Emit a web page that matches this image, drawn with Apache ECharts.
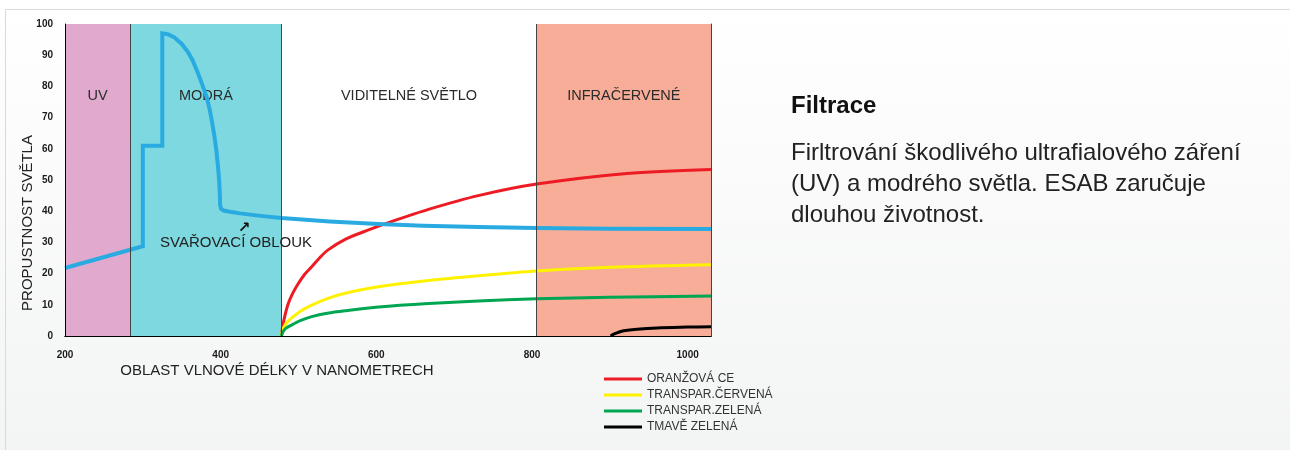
<!DOCTYPE html>
<html>
<head>
<meta charset="utf-8">
<script src="https://cdn.jsdelivr.net/npm/echarts@6/dist/echarts.min.js"></script>
<style>
  html, body { margin: 0; padding: 0; background: #fff; }
  #chart { width: 1290px; height: 450px; }
</style>
</head>
<body>
<div id="chart"></div>
<script>
// wavelength bands
const bandNames = ['UV', 'MODRÁ', 'VIDITELNÉ SVĚTLO', 'INFRAČERVENÉ']
const bandEdges = [200, 284, 478, 806, 1030]
const bandColors = ['#e0a9cd', '#7ed8df', '#ffffff', '#f7ad98']

const xTicks = [200, 400, 600, 800, 1000]
const yTicks = [0, 10, 20, 30, 40, 50, 60, 70, 80, 90, 100]

// svařovací oblouk (blue)
const arcCurve = [
  [200, 21.8], [300, 28.8], [300, 61], [325, 61], [325, 97],
  [332, 96.7], [340, 95.8], [350, 93.6], [358, 91], [364, 88.3], [370, 84.8],
  [376, 80.8], [382, 76.6], [386, 72.5], [389, 68.5], [392, 64], [394.5, 59.5],
  [396.5, 54.5], [398, 50], [399, 45], [399.3, 42], [400.5, 40.8], [404, 40.2],
  [412, 39.8], [425, 39.3], [451, 38.5], [478, 37.8], [540, 36.7], [603, 35.9],
  [660, 35.3], [731, 34.9], [806, 34.6], [900, 34.4], [1030, 34.3]
]

// filtry
const orangeCe = [
  [478, 0], [480, 3.5], [483, 7], [487, 10.5], [493, 13.9], [500, 16.9],
  [508, 19.8], [517, 22.2], [527, 25], [538, 27.6], [560, 31], [590, 34],
  [622, 36.9], [667, 40.6], [731, 45], [806, 48.7], [922, 52.1], [1030, 53.4]
]
const transRed = [
  [478, 0], [480, 2.2], [484, 4], [491, 5.7], [503, 8], [517, 9.9], [537, 12],
  [560, 13.7], [603, 15.8], [667, 17.8], [731, 19.3], [806, 20.8], [900, 22],
  [1030, 22.8]
]
const transGreen = [
  [478, 0], [480, 1.3], [484, 2.5], [491, 3.5], [503, 5], [517, 6.2], [537, 7.3],
  [560, 8.1], [603, 9.3], [667, 10.4], [731, 11.2], [806, 11.9], [900, 12.4],
  [1030, 12.8]
]
const darkGreen = [
  [901, 0], [905, 0.6], [910, 1.1], [918, 1.7], [935, 2.2], [961, 2.6],
  [1000, 2.85], [1030, 3]
]

const legendNames = ['ORANŽOVÁ CE', 'TRANSPAR.ČERVENÁ', 'TRANSPAR.ZELENÁ', 'TMAVĚ ZELENÁ']
const filterColors = ['#ed1c24', '#fff200', '#00a651', '#000000']

const font = 'Liberation Sans, Arial, Helvetica, sans-serif'

const chart = echarts.init(document.getElementById('chart'))

const bandAreas = bandNames.map((name, i) => [
  {
    name: name,
    xAxis: bandEdges[i],
    itemStyle: { color: bandColors[i] }
  },
  { xAxis: bandEdges[i + 1] }
])

const filterSeries = [orangeCe, transRed, transGreen, darkGreen].map((d, i) => ({
  name: legendNames[i],
  type: 'line',
  data: d,
  smooth: 0.3,
  showSymbol: false,
  silent: true,
  z: 3,
  lineStyle: { color: filterColors[i], width: 3 },
  itemStyle: { color: filterColors[i] }
}))

const option = {
  animation: false,
  backgroundColor: new echarts.graphic.LinearGradient(0, 0, 0, 1, [
    { offset: 0, color: '#ffffff' },
    { offset: 1, color: '#f3f4f4' }
  ]),
  textStyle: { fontFamily: font },
  grid: {
    left: 65, right: 579, top: 24, bottom: 114,
    show: true, backgroundColor: '#ffffff', borderWidth: 0
  },
  legend: {
    data: legendNames,
    orient: 'vertical',
    left: 604, top: 373,
    padding: 0,
    icon: 'rect',
    itemWidth: 38, itemHeight: 3, itemGap: 4,
    textStyle: { fontSize: 12, color: '#333', lineHeight: 12, fontFamily: font },
    selectedMode: false
  },
  xAxis: [{
    type: 'value',
    min: 200, max: 1030, interval: 200,
    z: 5,
    axisLine: { lineStyle: { color: '#000', width: 1 } },
    axisTick: { show: false },
    splitLine: { show: false },
    axisLabel: {
      fontSize: 10, color: '#1a1a1a', fontWeight: 'bold', margin: 14,
      showMaxLabel: false,
      formatter: v => (xTicks.includes(v) ? String(v) : '')
    }
  }, {
    type: 'value', position: 'top',
    min: 200, max: 1030,
    z: 5,
    axisLine: { show: true, lineStyle: { color: '#000', width: 1 } },
    axisTick: { show: false }, axisLabel: { show: false }, splitLine: { show: false }
  }],
  yAxis: [{
    type: 'value',
    min: 0, max: 100, interval: 10,
    z: 5,
    axisLine: { show: true, lineStyle: { color: '#000', width: 1 } },
    axisTick: { show: false },
    splitLine: { show: false },
    axisLabel: {
      fontSize: 10, color: '#1a1a1a', fontWeight: 'bold', margin: 12,
      formatter: v => (yTicks.includes(v) ? String(v) : '')
    }
  }, {
    type: 'value', position: 'right',
    min: 0, max: 100,
    z: 5,
    axisLine: { show: true, lineStyle: { color: '#444', width: 1 } },
    axisTick: { show: false }, axisLabel: { show: false }, splitLine: { show: false }
  }],
  series: [
    {
      name: 'bands',
      type: 'line',
      data: [],
      z: 1,
      silent: true,
      markArea: {
        silent: true,
        label: {
          show: true, position: 'insideTop', offset: [0, 59],
          fontSize: 14.5, color: '#2b2b2b', fontFamily: font
        },
        data: bandAreas
      }
    },
    {
      name: 'edges',
      type: 'line',
      data: [],
      z: 1.5,
      silent: true,
      markLine: {
        silent: true,
        symbol: 'none',
        label: { show: false },
        lineStyle: { color: '#444', width: 1, type: 'solid' },
        data: bandEdges.slice(1, 4).map(x => ({ xAxis: x }))
      }
    },
    {
      name: 'SVAŘOVACÍ OBLOUK',
      type: 'line',
      data: arcCurve,
      showSymbol: false,
      silent: true,
      z: 4,
      lineStyle: { color: '#29abe2', width: 4, join: 'miter' }
    },
    ...filterSeries
  ],
  graphic: [
    {
      type: 'rect', silent: true, z: -1,
      shape: { x: 5.5, y: 9.5, width: 1300, height: 460 },
      style: { fill: 'none', stroke: '#d9d9d9', lineWidth: 1 }
    },
    {
      type: 'text', silent: true,
      x: 28, y: 223, rotation: Math.PI / 2,
      style: {
        text: 'PROPUSTNOST SVĚTLA', font: '15px ' + font, fill: '#222',
        align: 'center', verticalAlign: 'middle'
      }
    },
    {
      type: 'text', silent: true,
      x: 277, y: 371,
      style: {
        text: 'OBLAST VLNOVÉ DÉLKY V NANOMETRECH', font: '15px ' + font, fill: '#222',
        align: 'center', verticalAlign: 'middle'
      }
    },
    {
      type: 'text', silent: true, z: 10,
      x: 244, y: 228,
      style: {
        text: '↗', font: 'bold 15px DejaVu Sans', fill: '#111',
        align: 'center', verticalAlign: 'middle'
      }
    },
    {
      type: 'text', silent: true, z: 10,
      x: 236, y: 243,
      style: {
        text: 'SVAŘOVACÍ OBLOUK', font: '15px ' + font, fill: '#222',
        align: 'center', verticalAlign: 'middle'
      }
    },
    {
      type: 'text', silent: true,
      x: 791, y: 106,
      style: {
        text: 'Filtrace', font: 'bold 24px ' + font, fill: '#111',
        align: 'left', verticalAlign: 'middle'
      }
    },
    {
      type: 'text', silent: true,
      x: 791, y: 137.5,
      style: {
        text: 'Firltrování škodlivého ultrafialového záření\n(UV) a modrého světla. ESAB zaručuje\ndlouhou životnost.',
        font: '24px ' + font, fill: '#222', lineHeight: 31,
        align: 'left', verticalAlign: 'top'
      }
    }
  ]
}

chart.setOption(option)
</script>
</body>
</html>
